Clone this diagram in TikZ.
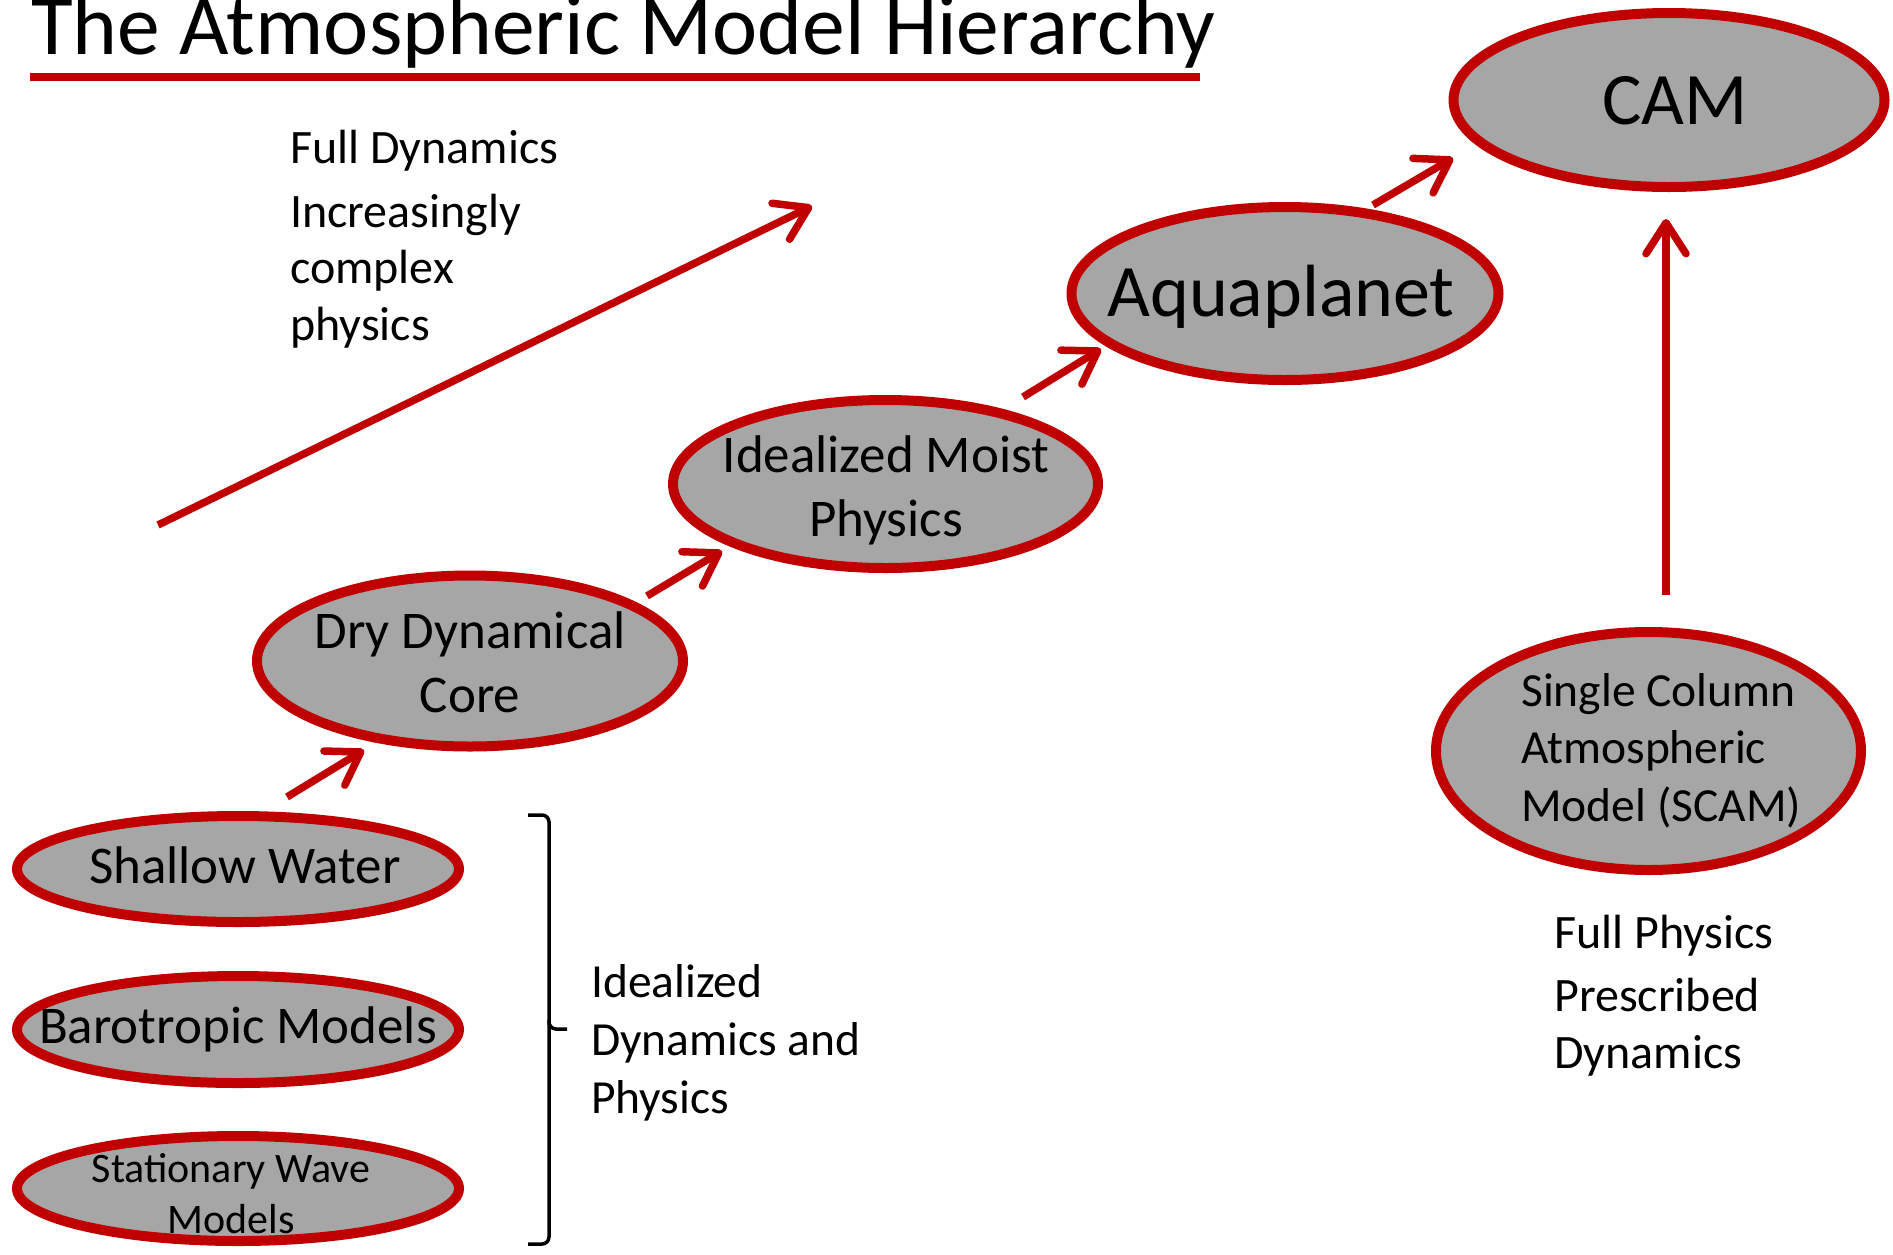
\documentclass[tikz,border=0pt]{standalone}
\usepackage{fontspec}
\setmainfont{Carlito}
\usetikzlibrary{shapes.geometric,arrows.meta}
\definecolor{dred}{HTML}{C00000}
\definecolor{fillg}{HTML}{A6A6A6}
\begin{document}
\begin{tikzpicture}[x=1pt,y=-1pt,
  ellip/.style={ellipse, draw=dred, fill=fillg, line width=10pt, inner sep=0pt},
  etext/.style={anchor=base, inner sep=0pt},
  arr/.style={draw=dred, line width=7.5pt, -{Straight Barb[length=31pt,width=40pt,round]}},
  side/.style={anchor=base west, inner sep=0pt},
  brace/.style={draw=black, line width=3.5pt, rounded corners=7pt}
]
\useasboundingbox (0,0) rectangle (1893,1254);

% title
\node[anchor=base west, inner sep=0pt, font=\fontsize{85.5}{100}\selectfont] (title) at (31,54.5) {The Atmospheric Model Hierarchy};
\coordinate (ulL) at (30,76.7);
\coordinate (ulR) at (1200,76.7);
\draw[dred, line width=8pt] (ulL) -- (ulR);

% ellipses
\node[ellip, minimum width=431pt, minimum height=174pt] (cam) at (1669,100) {};
\node[etext, font=\fontsize{74}{90}\selectfont] (camt) at (1675,124.5) {CAM};

\node[ellip, minimum width=427pt, minimum height=173pt] (aqua) at (1285,293.5) {};
\node[etext, font=\fontsize{74}{90}\selectfont] (aquat) at (1281,316.7) {Aquaplanet};

\node[ellip, minimum width=425pt, minimum height=168pt] (moist) at (885.5,484) {};
\node[etext, font=\fontsize{53}{64}\selectfont] (moistt) at (886,472) {\begin{tabular}[t]{@{}c@{}}Idealized Moist\\Physics\end{tabular}};

\node[ellip, minimum width=426pt, minimum height=171pt] (dry) at (470,661) {};
\node[etext, font=\fontsize{53}{64}\selectfont] (dryt) at (470,648) {\begin{tabular}[t]{@{}c@{}}Dry Dynamical\\Core\end{tabular}};

\node[ellip, minimum width=442pt, minimum height=106pt] (sw) at (238,869) {};
\node[etext, font=\fontsize{53}{64}\selectfont] (swt) at (245,883) {Shallow Water};

\node[ellip, minimum width=442pt, minimum height=107pt] (baro) at (238,1029.5) {};
\node[etext, font=\fontsize{53}{64}\selectfont] (barot) at (238,1043) {Barotropic Models};

\node[ellip, minimum width=442pt, minimum height=105pt] (stat) at (238,1188.5) {};
\node[etext, font=\fontsize{42}{51}\selectfont] (statt) at (231,1182.5) {\begin{tabular}[t]{@{}c@{}}Stationary Wave\\Models\end{tabular}};

\node[ellip, minimum width=425pt, minimum height=238pt] (scam) at (1648.5,751) {};
\node[side, font=\fontsize{47.5}{57.5}\selectfont] (scamt) at (1521,706) {\begin{tabular}[t]{@{}l@{}}Single Column\\Atmospheric\\Model (SCAM)\end{tabular}};

% side texts
\node[side, font=\fontsize{48}{56.5}\selectfont] (fulldyn) at (290,163.5) {\begin{tabular}[t]{@{}l@{}}Full Dynamics\\[7pt]Increasingly\\complex\\physics\end{tabular}};
\node[side, font=\fontsize{47.5}{58}\selectfont] (ideal) at (591,997) {\begin{tabular}[t]{@{}l@{}}Idealized\\Dynamics and\\Physics\end{tabular}};
\node[side, font=\fontsize{48}{57}\selectfont] (fullphys) at (1554,948) {\begin{tabular}[t]{@{}l@{}}Full Physics\\[6pt]Prescribed\\Dynamics\end{tabular}};

% brace
\draw[brace] (528,815) -| (549,1029) -- (567,1029);
\draw[brace] (549,1020) |- (528,1244);

% arrows
\coordinate (a1s) at (287,797);  \coordinate (a1e) at (364,750);
\coordinate (a2s) at (647,596);  \coordinate (a2e) at (722,551);
\coordinate (a3s) at (1023,397); \coordinate (a3e) at (1101,349);
\coordinate (a4s) at (1373,205); \coordinate (a4e) at (1453,158);
\coordinate (a5s) at (158,525);  \coordinate (a5e) at (812,206);
\coordinate (a6s) at (1666,595); \coordinate (a6e) at (1666,219);
\draw[arr] (a1s) -- (a1e);
\draw[arr] (a2s) -- (a2e);
\draw[arr] (a3s) -- (a3e);
\draw[arr] (a4s) -- (a4e);
\draw[arr] (a5s) -- (a5e);
\draw[arr] (a6s) -- (a6e);
\end{tikzpicture}
\end{document}
